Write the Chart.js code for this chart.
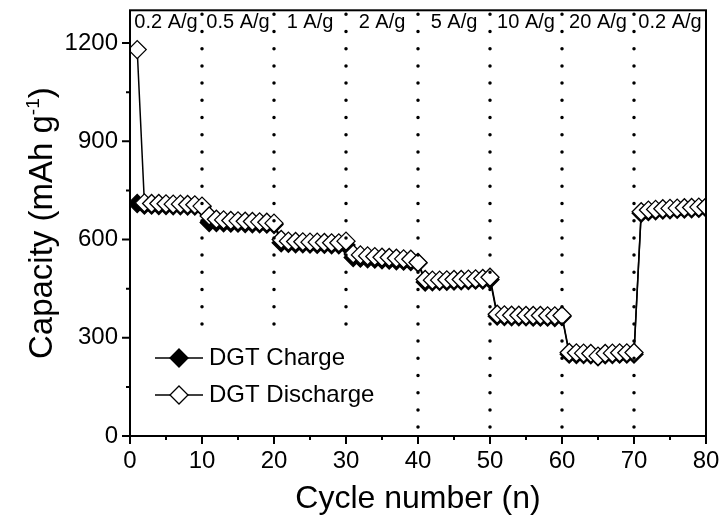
<!DOCTYPE html>
<html>
<head>
<meta charset="utf-8">
<script src="https://cdn.jsdelivr.net/npm/chart.js@4.4.1/dist/chart.umd.min.js"></script>
<style>
  html, body { margin: 0; padding: 0; background: #fff; }
</style>
</head>
<body>
<canvas id="rateChart" width="722" height="525"></canvas>
<script>
const cycles = [
  1, 2, 3, 4, 5, 6, 7, 8, 9, 10,
  11, 12, 13, 14, 15, 16, 17, 18, 19, 20,
  21, 22, 23, 24, 25, 26, 27, 28, 29, 30,
  31, 32, 33, 34, 35, 36, 37, 38, 39, 40,
  41, 42, 43, 44, 45, 46, 47, 48, 49, 50,
  51, 52, 53, 54, 55, 56, 57, 58, 59, 60,
  61, 62, 63, 64, 65, 66, 67, 68, 69, 70,
  71, 72, 73, 74, 75, 76, 77, 78, 79, 80
];

const chargeCapacity = [
  710, 705, 705, 704, 704, 703, 703, 702, 702, 700,
  652, 652, 651, 650, 650, 649, 648, 648, 647, 646,
  590, 588, 587, 587, 586, 585, 585, 584, 584, 583,
  545, 543, 541, 540, 538, 537, 535, 534, 533, 528,
  470, 471, 472, 472, 473, 474, 475, 476, 476, 478,
  366, 365, 364, 364, 364, 363, 363, 363, 362, 365,
  250, 249, 249, 248, 242, 248, 249, 250, 250, 250,
  680, 685, 688, 690, 691, 692, 693, 694, 695, 696
];

const dischargeCapacity = [
  1180, 712, 710, 710, 709, 708, 708, 707, 706, 702,
  672, 662, 660, 658, 657, 656, 655, 654, 653, 650,
  600, 595, 594, 593, 592, 592, 591, 590, 590, 595,
  556, 553, 550, 548, 546, 545, 543, 541, 540, 530,
  478, 476, 476, 477, 478, 478, 479, 480, 481, 485,
  372, 370, 369, 369, 368, 368, 368, 367, 367, 368,
  255, 254, 253, 252, 244, 252, 253, 254, 254, 255,
  685, 690, 692, 694, 695, 696, 697, 698, 699, 700
];

const xTicks = [0, 10, 20, 30, 40, 50, 60, 70, 80];
const xMinorTicks = [5, 15, 25, 35, 45, 55, 65, 75];
const yTicks = [0, 300, 600, 900, 1200];
const yMinorTicks = [150, 450, 750, 1050];

const rateEdges = [0, 10, 20, 30, 40, 50, 60, 70, 80];
const rateLabels = ['0.2 A/g', '0.5 A/g', '1 A/g', '2 A/g', '5 A/g', '10 A/g', '20 A/g', '0.2 A/g'];

const FONT = '"Liberation Sans", Arial, sans-serif';

function toPoints(xs, ys) {
  return xs.map((x, i) => ({ x, y: ys[i] }));
}

function diamond(ctx, x, y, r, fill) {
  ctx.beginPath();
  ctx.moveTo(x, y - r);
  ctx.lineTo(x + r, y);
  ctx.lineTo(x, y + r);
  ctx.lineTo(x - r, y);
  ctx.closePath();
  ctx.fillStyle = fill;
  ctx.fill();
  ctx.lineWidth = 1.3;
  ctx.strokeStyle = '#000';
  ctx.stroke();
}

const decorations = {
  id: 'decorations',
  beforeDatasetsDraw(chart) {
    const { ctx, chartArea, scales } = chart;
    ctx.save();
    ctx.fillStyle = '#000';
    ctx.font = `20px ${FONT}`;
    ctx.textAlign = 'center';
    ctx.textBaseline = 'middle';
    rateLabels.forEach((label, i) => {
      const mid = (rateEdges[i] + rateEdges[i + 1]) / 2;
      ctx.fillText(label, scales.x.getPixelForValue(mid), chartArea.top + 12);
    });
    ctx.restore();
  },
  afterDatasetsDraw(chart) {
    const { ctx, chartArea, scales } = chart;
    const { left, right, top, bottom } = chartArea;
    ctx.save();

    // dotted separators between current densities
    ctx.strokeStyle = '#000';
    ctx.lineWidth = 3.5;
    ctx.lineCap = 'round';
    ctx.setLineDash([0, 17.2]);
    rateEdges.slice(1, -1).forEach(v => {
      const px = Math.round(scales.x.getPixelForValue(v));
      ctx.beginPath();
      ctx.moveTo(px, top + 4);
      ctx.lineTo(px, bottom);
      ctx.stroke();
    });
    ctx.setLineDash([]);
    ctx.lineCap = 'butt';

    // legend box (white, hides the dots behind it)
    ctx.fillStyle = '#fff';
    ctx.fillRect(left + 4, bottom - 101, 250, 100);

    // frame
    ctx.lineWidth = 2;
    ctx.strokeRect(left, top, right - left, bottom - top);

    // tick marks
    ctx.beginPath();
    xTicks.forEach(v => {
      const px = scales.x.getPixelForValue(v);
      ctx.moveTo(px, bottom); ctx.lineTo(px, bottom + 8);
    });
    xMinorTicks.forEach(v => {
      const px = scales.x.getPixelForValue(v);
      ctx.moveTo(px, bottom); ctx.lineTo(px, bottom + 4);
    });
    yTicks.forEach(v => {
      const py = scales.y.getPixelForValue(v);
      ctx.moveTo(left, py); ctx.lineTo(left - 8, py);
    });
    yMinorTicks.forEach(v => {
      const py = scales.y.getPixelForValue(v);
      ctx.moveTo(left, py); ctx.lineTo(left - 4, py);
    });
    ctx.stroke();

    // legend
    const rows = [
      { label: 'DGT Charge', fill: '#000', y: bottom - 78 },
      { label: 'DGT Discharge', fill: '#fff', y: bottom - 41 }
    ];
    rows.forEach(row => {
      ctx.lineWidth = 1.5;
      ctx.strokeStyle = '#000';
      ctx.beginPath();
      ctx.moveTo(left + 25, row.y);
      ctx.lineTo(left + 73, row.y);
      ctx.stroke();
      diamond(ctx, left + 49, row.y, 9, row.fill);
      ctx.fillStyle = '#000';
      ctx.font = `24px ${FONT}`;
      ctx.textAlign = 'left';
      ctx.textBaseline = 'middle';
      ctx.fillText(row.label, left + 79, row.y);
    });

    // y axis title with superscript
    const mainFont = `33px ${FONT}`;
    const supFont = `19px ${FONT}`;
    const partA = 'Capacity (mAh g';
    const sup = '-1';
    const partB = ')';
    ctx.font = mainFont;
    const wA = ctx.measureText(partA).width;
    const wB = ctx.measureText(partB).width;
    ctx.font = supFont;
    const wS = ctx.measureText(sup).width;
    const total = wA + wS + wB;
    ctx.translate(40, (top + bottom) / 2);
    ctx.rotate(-Math.PI / 2);
    ctx.textAlign = 'left';
    ctx.textBaseline = 'alphabetic';
    ctx.fillStyle = '#000';
    let cx = -total / 2;
    ctx.font = mainFont;
    ctx.fillText(partA, cx, 12);
    cx += wA;
    ctx.font = supFont;
    ctx.fillText(sup, cx, -1.5);
    cx += wS;
    ctx.font = mainFont;
    ctx.fillText(partB, cx, 12);

    ctx.restore();
  }
};

new Chart(document.getElementById('rateChart'), {
  type: 'line',
  data: {
    datasets: [
      {
        label: 'DGT Charge',
        data: toPoints(cycles, chargeCapacity),
        borderColor: '#000',
        borderWidth: 1.5,
        pointStyle: 'rectRot',
        pointRadius: 9,
        pointBackgroundColor: '#000',
        pointBorderColor: '#000',
        pointBorderWidth: 1.3,
        tension: 0,
        order: 1
      },
      {
        label: 'DGT Discharge',
        data: toPoints(cycles, dischargeCapacity),
        borderColor: '#000',
        borderWidth: 1.5,
        pointStyle: 'rectRot',
        pointRadius: 9,
        pointBackgroundColor: '#fff',
        pointBorderColor: '#000',
        pointBorderWidth: 1.3,
        tension: 0,
        order: 0
      }
    ]
  },
  options: {
    responsive: false,
    animation: false,
    devicePixelRatio: 1,
    layout: { padding: { top: 10, right: 16, left: 0, bottom: 0 } },
    plugins: { legend: { display: false }, tooltip: { enabled: false } },
    scales: {
      x: {
        type: 'linear',
        min: 0,
        max: 80,
        afterBuildTicks: s => { s.ticks = xTicks.map(v => ({ value: v })); },
        afterFit: s => { s.height = 89; s.paddingLeft = 0; s.paddingRight = 0; },
        grid: { display: false, drawTicks: false },
        border: { display: false },
        ticks: { color: '#000', font: { family: FONT, size: 24 }, padding: 11, maxRotation: 0, autoSkip: false },
        title: {
          display: true,
          text: 'Cycle number (n)',
          color: '#000',
          font: { family: FONT, size: 32 },
          padding: { top: 0, bottom: 7 }
        }
      },
      y: {
        min: 0,
        max: 1300,
        afterBuildTicks: s => { s.ticks = yTicks.map(v => ({ value: v })); },
        afterFit: s => { s.width = 130; s.paddingTop = 0; s.paddingBottom = 0; },
        grid: { display: false, drawTicks: false },
        border: { display: false },
        ticks: {
          color: '#000',
          font: { family: FONT, size: 24 },
          padding: 12,
          autoSkip: false,
          callback: v => String(v)
        }
      }
    }
  },
  plugins: [decorations]
});
</script>
</body>
</html>
